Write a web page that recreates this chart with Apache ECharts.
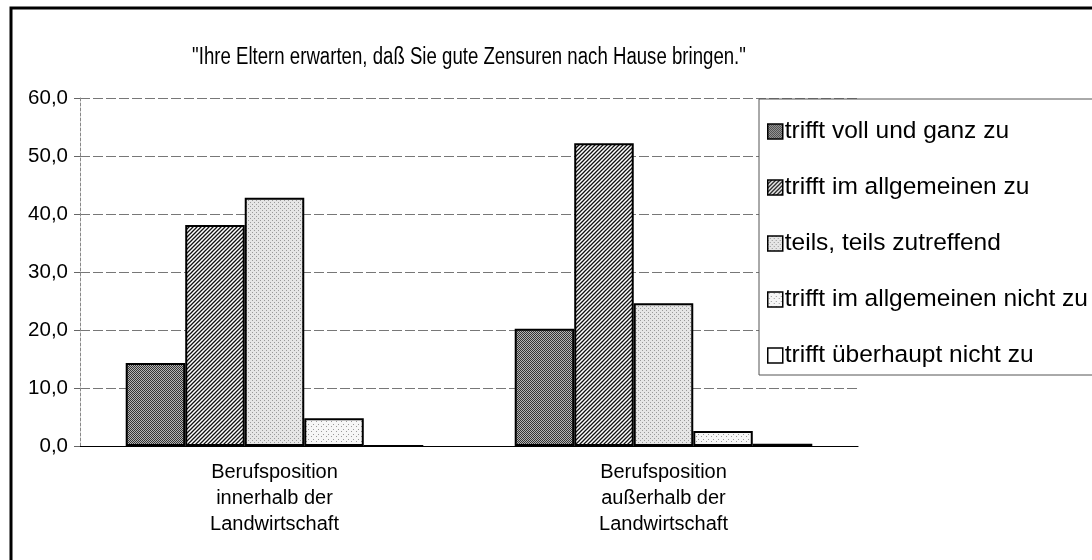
<!DOCTYPE html>
<html>
<head>
<meta charset="utf-8">
<script src="https://cdn.jsdelivr.net/npm/echarts@6/dist/echarts.min.js"></script>
<style>
  html, body { margin: 0; padding: 0; background: #fff; }
  #main { width: 1092px; height: 560px; }
</style>
</head>
<body>
<div id="main"></div>
<script>
var titleText = '"Ihre Eltern erwarten, daß Sie gute Zensuren nach Hause bringen."';
var categories = ['Berufsposition\ninnerhalb der\nLandwirtschaft', 'Berufsposition\naußerhalb der\nLandwirtschaft'];
var seriesNames = ['trifft voll und ganz zu', 'trifft im allgemeinen zu', 'teils, teils zutreffend',
    'trifft im allgemeinen nicht zu', 'trifft überhaupt nicht zu'];
var vollUndGanz = [14.3, 20.2];
var imAllgemeinen = [38.1, 52.2];
var teilsTeils = [42.8, 24.6];
var imAllgemeinenNicht = [4.8, 2.6];
var ueberhauptNicht = [0.0, 0.4];
var yMin = 0, yMax = 60, yStep = 10;

// kleine Füllmuster wie im Original (Raster / Schraffur)
function pattern(kind) {
    var c = document.createElement('canvas');
    c.width = 4; c.height = 4;
    var g = c.getContext('2d');
    var i, j;
    if (kind === 'dark') {
        g.fillStyle = '#b4b4b4'; g.fillRect(0, 0, 4, 4);
        g.fillStyle = '#333';
        for (i = 0; i < 4; i++) for (j = 0; j < 4; j++) if ((i + j) % 2 === 0) g.fillRect(i, j, 1, 1);
    } else if (kind === 'hatch') {
        g.fillStyle = '#fff'; g.fillRect(0, 0, 4, 4);
        g.strokeStyle = '#111'; g.lineWidth = 1.3;
        g.beginPath();
        g.moveTo(-1, 5); g.lineTo(5, -1);
        g.moveTo(-1, 1); g.lineTo(1, -1);
        g.moveTo(3, 5); g.lineTo(5, 3);
        g.stroke();
    } else if (kind === 'light') {
        g.fillStyle = '#e6e6e6'; g.fillRect(0, 0, 4, 4);
        g.fillStyle = '#999';
        g.fillRect(0, 0, 1, 1); g.fillRect(2, 2, 1, 1);
    } else if (kind === 'sparse') {
        c.width = 5; c.height = 5;
        g.fillStyle = '#f6f6f6'; g.fillRect(0, 0, 5, 5);
        g.fillStyle = '#999';
        g.fillRect(1, 1, 1, 1); g.fillRect(3, 4, 1, 1);
    } else {
        g.fillStyle = '#fff'; g.fillRect(0, 0, 4, 4);
    }
    return { image: c, repeat: 'repeat' };
}

var seriesData = [vollUndGanz, imAllgemeinen, teilsTeils, imAllgemeinenNicht, ueberhauptNicht];
var fills = ['dark', 'hatch', 'light', 'sparse', 'white'];
var series = [];
for (var k = 0; k < seriesData.length; k++) {
    series.push({
        name: seriesNames[k],
        type: 'bar',
        data: seriesData[k],
        barGap: '0%',
        barCategoryGap: '23.5%',
        itemStyle: {
            color: pattern(fills[k]),
            borderColor: '#000',
            borderWidth: 2
        }
    });
}

var chart = echarts.init(document.getElementById('main'));
chart.setOption({
    animation: false,
    backgroundColor: '#fff',
    textStyle: { fontFamily: 'Liberation Sans, Arial, sans-serif', color: '#000' },
    graphic: [{
        type: 'rect',
        z: -1,
        shape: { x: 11, y: 8, width: 1200, height: 700 },
        style: { fill: 'none', stroke: '#000', lineWidth: 3 }
    }, {
        // Titel in schmaler Schrift wie im Original
        type: 'text',
        x: 469,
        y: 58,
        scaleX: 0.81,
        style: {
            text: titleText,
            fontFamily: 'Liberation Sans, Arial, sans-serif',
            fontSize: 23,
            fill: '#000',
            align: 'center',
            verticalAlign: 'middle'
        }
    }],
    legend: {
        orient: 'vertical',
        left: 759,
        top: 99,
        padding: [20, 60, 7, 8],
        itemGap: 31,
        itemWidth: 15,
        itemHeight: 15,
        icon: 'rect',
        backgroundColor: '#fff',
        borderColor: '#555',
        borderWidth: 1,
        borderRadius: 0,
        itemStyle: { borderColor: '#000', borderWidth: 1.5 },
        textStyle: { fontSize: 24.5, color: '#000', lineHeight: 24, padding: [0, 0, 0, -3] },
        data: seriesNames
    },
    grid: { left: 80, right: 234, top: 98, bottom: 114 },
    xAxis: {
        type: 'category',
        data: categories,
        axisLine: { lineStyle: { color: '#000', width: 1.2 } },
        axisTick: { length: 5, lineStyle: { color: '#666' } },
        axisLabel: { fontSize: 20, lineHeight: 26, margin: 13, color: '#000' }
    },
    yAxis: {
        type: 'value',
        min: yMin,
        max: yMax,
        interval: yStep,
        axisLine: { show: true, lineStyle: { color: '#888', type: [3, 2] } },
        axisTick: { show: true, length: 6, lineStyle: { color: '#666' } },
        axisLabel: {
            fontSize: 20.5, margin: 12, color: '#000',
            formatter: function (v) { return v.toFixed(1).replace('.', ','); }
        },
        splitLine: { lineStyle: { color: '#777', width: 1, type: [10, 3] } }
    },
    series: series
});
</script>
</body>
</html>
